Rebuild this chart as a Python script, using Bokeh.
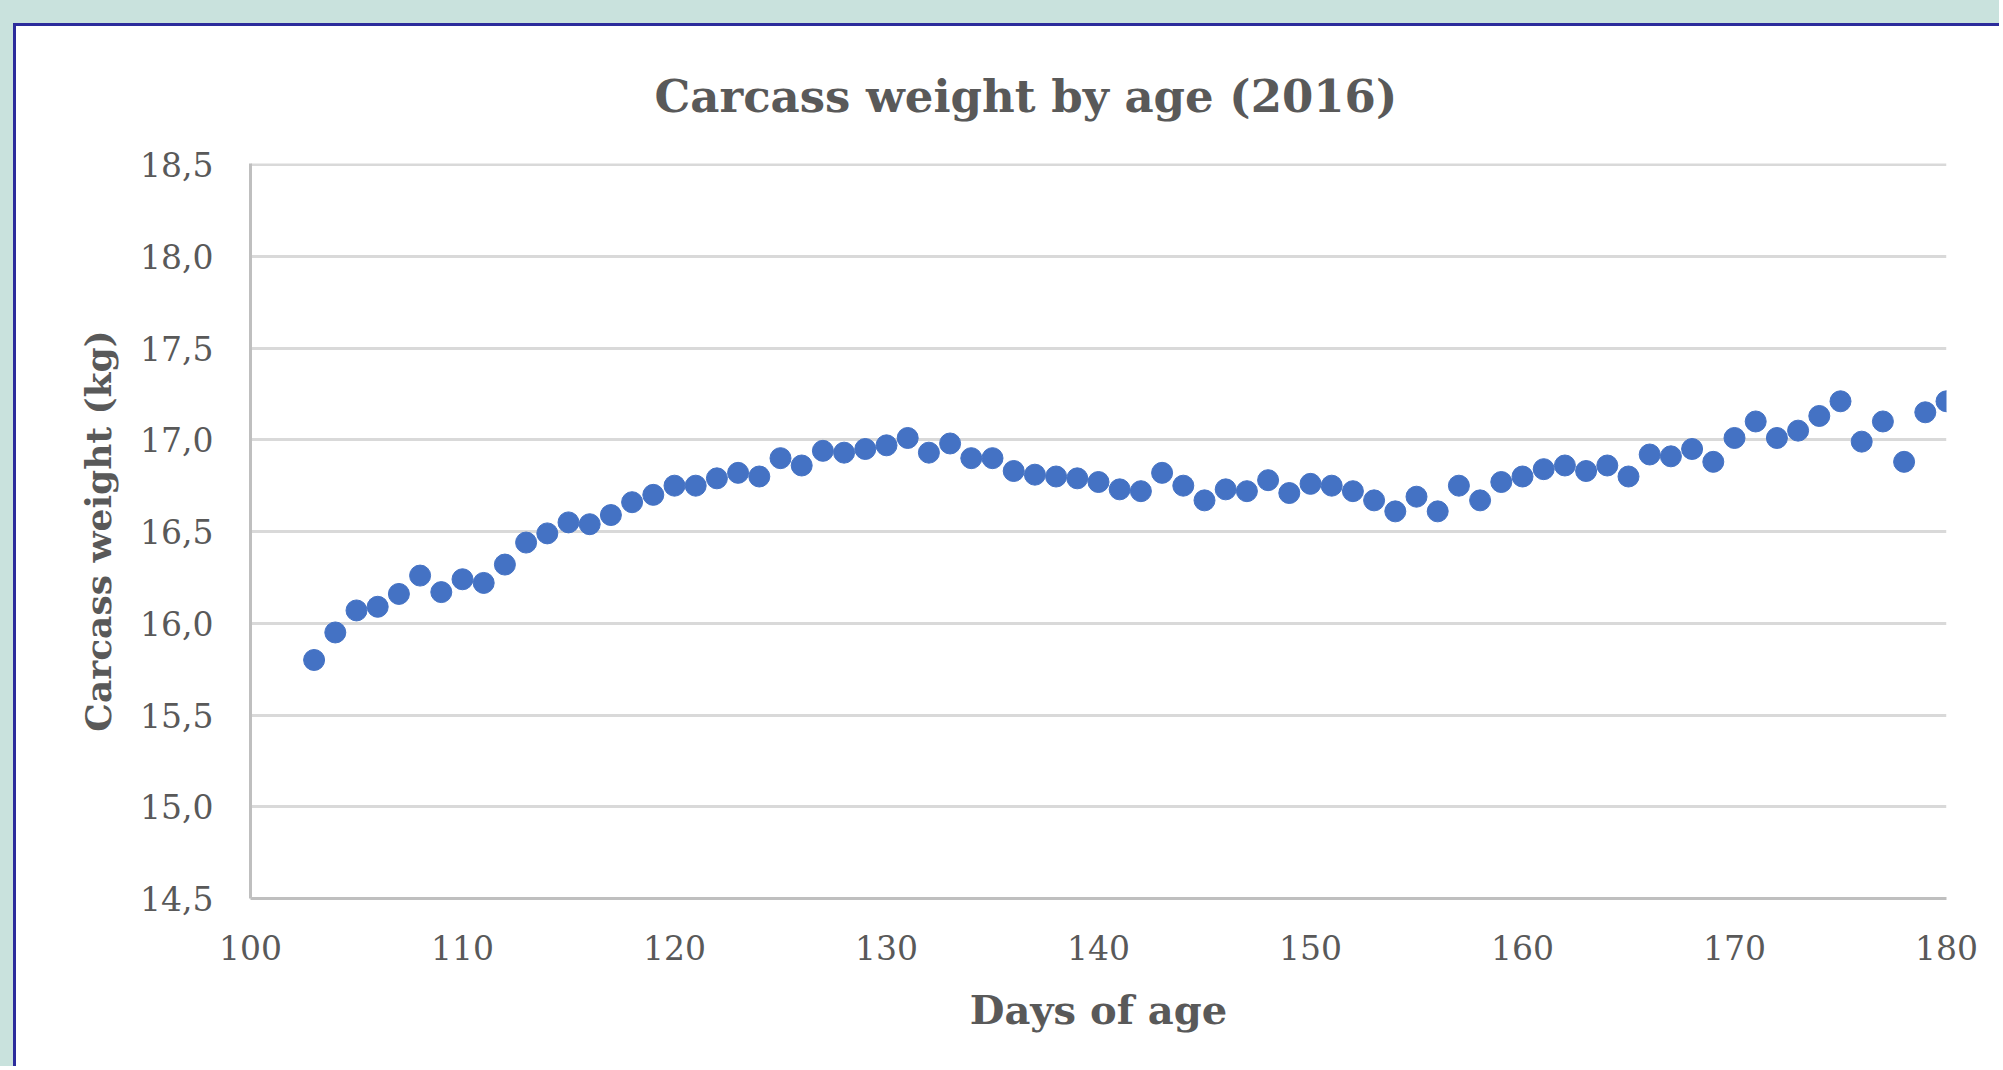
from bokeh.plotting import figure
from bokeh.models import FixedTicker, ColumnDataSource, Range1d
from bokeh.embed import file_html
from bokeh.resources import INLINE

# ---- data ----
days = [103, 104, 105, 106, 107, 108, 109, 110, 111, 112, 113, 114, 115, 116, 117, 118, 119, 120,
        121, 122, 123, 124, 125, 126, 127, 128, 129, 130, 131, 132, 133, 134, 135, 136, 137, 138,
        139, 140, 141, 142, 143, 144, 145, 146, 147, 148, 149, 150, 151, 152, 153, 154, 155, 156,
        157, 158, 159, 160, 161, 162, 163, 164, 165, 166, 167, 168, 169, 170, 171, 172, 173, 174,
        175, 176, 177, 178, 179, 180]
weights = [15.80, 15.95, 16.07, 16.09, 16.16, 16.26, 16.17, 16.24, 16.22, 16.32, 16.44, 16.49,
           16.55, 16.54, 16.59, 16.66, 16.70, 16.75, 16.75, 16.79, 16.82, 16.80, 16.90, 16.86,
           16.94, 16.93, 16.95, 16.97, 17.01, 16.93, 16.98, 16.90, 16.90, 16.83, 16.81, 16.80,
           16.79, 16.77, 16.73, 16.72, 16.82, 16.75, 16.67, 16.73, 16.72, 16.78, 16.71, 16.76,
           16.75, 16.72, 16.67, 16.61, 16.69, 16.61, 16.75, 16.67, 16.77, 16.80, 16.84, 16.86,
           16.83, 16.86, 16.80, 16.92, 16.91, 16.95, 16.88, 17.01, 17.10, 17.01, 17.05, 17.13,
           17.21, 16.99, 17.10, 16.88, 17.15, 17.21]
x_ticks = [100, 110, 120, 130, 140, 150, 160, 170, 180]
y_ticks = [14.5, 15.0, 15.5, 16.0, 16.5, 17.0, 17.5, 18.0, 18.5]
y_tick_labels = ["14,5", "15,0", "15,5", "16,0", "16,5", "17,0", "17,5", "18,0", "18,5"]
title_text = "Carcass weight by age (2016)"
x_title = "Days of age"
y_title = "Carcass weight (kg)"

TEXT = "#595959"
FONT = "DejaVu Serif"

p = figure(width=1986, height=1043, output_backend="svg", toolbar_location=None,
           x_range=Range1d(100, 180), y_range=Range1d(14.5, 18.506),
           min_border_left=234, min_border_right=56, min_border_top=137, min_border_bottom=171,
           title=title_text)
p.styles = {"margin-left": "13px", "margin-top": "23px",
            "border-top": "3px solid #2c2c9c", "border-left": "3px solid #2c2c9c",
            "box-shadow": "-60px -60px 0 0 #c9e2dd, -60px 0 0 0 #c9e2dd, 0 -60px 0 0 #c9e2dd"}
p.background_fill_color = "white"
p.border_fill_color = "white"
p.outline_line_color = None

p.title.text_font = FONT
p.title.text_font_style = "bold"
p.title.text_font_size = "45px"
p.title.text_color = TEXT
p.title.align = "left"
p.title.offset = 404
p.title.vertical_align = "bottom"
p.title.standoff = 81

src = ColumnDataSource(dict(x=days, y=weights))
p.scatter("x", "y", source=src, size=21, fill_color="#4472C4", line_color="#4472C4")

# grid
p.xgrid.grid_line_color = None
p.ygrid.grid_line_color = "#D9D9D9"
p.ygrid.grid_line_width = 3
p.ygrid.ticker = FixedTicker(ticks=y_ticks)

# x axis
xa = p.xaxis[0]
xa.ticker = FixedTicker(ticks=x_ticks)
xa.axis_label = x_title
xa.axis_label_text_font = FONT
xa.axis_label_text_font_style = "bold"
xa.axis_label_text_font_size = "40px"
xa.axis_label_text_color = TEXT
xa.axis_label_standoff = 23
xa.major_label_text_font = FONT
xa.major_label_text_font_size = "33px"
xa.major_label_text_color = TEXT
xa.major_label_standoff = 36
xa.axis_line_color = "#BFBFBF"
xa.axis_line_width = 3
xa.major_tick_line_color = None
xa.minor_tick_line_color = None
xa.major_tick_out = 0
xa.minor_tick_out = 0

# y axis
ya = p.yaxis[0]
ya.ticker = FixedTicker(ticks=y_ticks)
ya.major_label_overrides = {t: s for t, s in zip(y_ticks, y_tick_labels)}
ya.axis_label = y_title
ya.axis_label_text_font = FONT
ya.axis_label_text_font_style = "bold"
ya.axis_label_text_font_size = "36px"
ya.axis_label_text_color = TEXT
ya.axis_label_standoff = 18
ya.major_label_text_font = FONT
ya.major_label_text_font_size = "33px"
ya.major_label_text_color = TEXT
ya.major_label_standoff = 37
ya.axis_line_color = "#BFBFBF"
ya.axis_line_width = 3
ya.major_tick_line_color = None
ya.minor_tick_line_color = None
ya.major_tick_out = 0
ya.minor_tick_out = 0

open("out.html", "w").write(file_html(p, INLINE))
